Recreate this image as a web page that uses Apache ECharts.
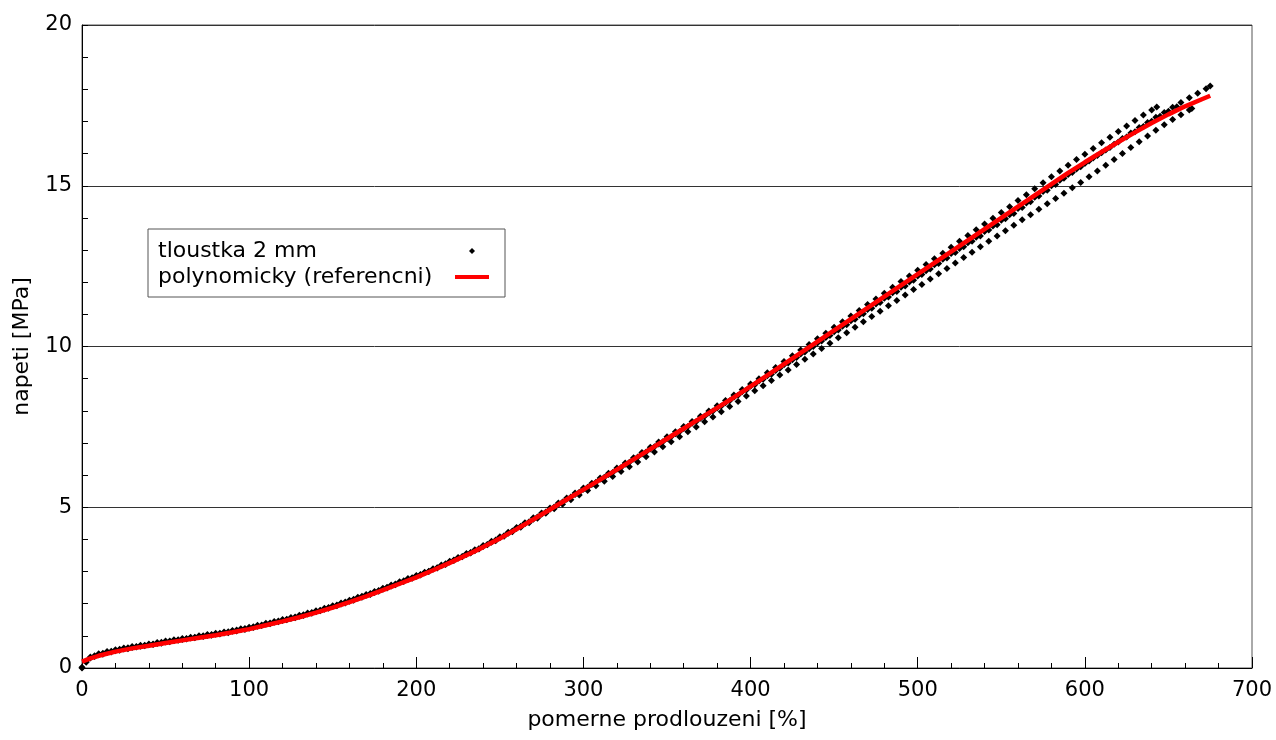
<!DOCTYPE html>
<html>
<head>
<meta charset="utf-8">
<title>napeti - pomerne prodlouzeni</title>
<script src="https://cdn.jsdelivr.net/npm/echarts@6/dist/echarts.min.js"></script>
<style>
  html, body { margin: 0; padding: 0; background: #fff; }
  #chart { width: 1276px; height: 740px; }
</style>
</head>
<body>
<div id="chart"></div>
<script>
// Tensile test, 2 mm thick samples: stress [MPa] against relative elongation [%]
const FONT = 'DejaVu Sans, Verdana, sans-serif';

const seriesMeasured = 'tloustka 2 mm';
const seriesReference = 'polynomicky (referencni)';

const xTicks = { min: 0, max: 700, step: 100 };
const yTicks = { min: 0, max: 20, step: 5 };

// measured sample 1 (strain %, stress MPa)
const sample1 = [
  [0,0],[5,0.34],[10,0.44],[15,0.51],[20,0.57],[25,0.62],[30,0.67],[35,0.71],[40,0.75],[45,0.79],
  [50,0.84],[55,0.88],[60,0.92],[65,0.96],[70,1.0],[75,1.04],[80,1.08],[85,1.12],[90,1.17],[95,1.22],
  [100,1.27],[105,1.33],[110,1.39],[115,1.45],[120,1.51],[125,1.57],[130,1.64],[135,1.71],[140,1.78],[145,1.86],
  [150,1.94],[155,2.02],[160,2.11],[165,2.2],[170,2.29],[175,2.38],[180,2.48],[185,2.58],[190,2.68],[195,2.78],
  [200,2.88],[205,2.98],[210,3.09],[215,3.2],[220,3.32],[225,3.44],[230,3.56],[235,3.68],[240,3.81],[245,3.94],
  [250,4.08],[255,4.22],[260,4.37],[265,4.52],[270,4.67],[275,4.82],[280,4.98],[285,5.13],[290,5.29],[295,5.44],
  [300,5.6],[305,5.75],[310,5.91],[315,6.06],[320,6.22],[325,6.38],[330,6.54],[335,6.7],[340,6.87],[345,7.03],
  [350,7.19],[355,7.35],[360,7.51],[365,7.67],[370,7.83],[375,7.99],[380,8.16],[385,8.32],[390,8.49],[395,8.66],
  [400,8.83],[405,9.0],[410,9.18],[415,9.35],[420,9.53],[425,9.71],[430,9.89],[435,10.06],[440,10.24],[445,10.41],
  [450,10.6],[455,10.77],[460,10.95],[465,11.12],[470,11.31],[475,11.48],[480,11.66],[485,11.84],[490,12.02],[495,12.19],
  [500,12.37],[505,12.55],[510,12.73],[515,12.9],[520,13.09],[525,13.27],[530,13.45],[535,13.63],[540,13.81],[545,13.99],
  [550,14.17],[555,14.35],[560,14.54],[565,14.72],[570,14.91],[575,15.09],[580,15.28],[585,15.46],[590,15.64],[595,15.82],
  [600,15.98],[605,16.16],[610,16.34],[615,16.51],[620,16.69],[625,16.86],[630,17.03],[635,17.2],[640,17.36],[643,17.45]
];

// measured sample 2
const sample2 = [
  [0,0.02],[5,0.31],[10,0.41],[15,0.48],[20,0.54],[25,0.59],[30,0.64],[35,0.68],[40,0.72],[45,0.76],
  [50,0.81],[55,0.85],[60,0.89],[65,0.93],[70,0.97],[75,1.01],[80,1.05],[85,1.09],[90,1.14],[95,1.19],
  [100,1.24],[105,1.3],[110,1.36],[115,1.42],[120,1.48],[125,1.54],[130,1.61],[135,1.68],[140,1.75],[145,1.83],
  [150,1.91],[155,1.99],[160,2.08],[165,2.17],[170,2.26],[175,2.35],[180,2.45],[185,2.55],[190,2.65],[195,2.75],
  [200,2.85],[205,2.96],[210,3.07],[215,3.18],[220,3.3],[225,3.41],[230,3.53],[235,3.65],[240,3.78],[245,3.91],
  [250,4.05],[255,4.19],[260,4.34],[265,4.49],[270,4.63],[275,4.78],[280,4.94],[285,5.09],[290,5.25],[295,5.4],
  [300,5.56],[305,5.71],[310,5.87],[315,6.02],[320,6.18],[325,6.34],[330,6.5],[335,6.66],[340,6.81],[345,6.97],
  [350,7.13],[355,7.29],[360,7.45],[365,7.61],[370,7.77],[375,7.93],[380,8.09],[385,8.25],[390,8.42],[395,8.59],
  [400,8.76],[405,8.93],[410,9.09],[415,9.25],[420,9.43],[425,9.59],[430,9.77],[435,9.93],[440,10.11],[445,10.28],
  [450,10.46],[455,10.63],[460,10.8],[465,10.97],[470,11.15],[475,11.32],[480,11.5],[485,11.67],[490,11.84],[495,12.01],
  [500,12.19],[505,12.36],[510,12.54],[515,12.71],[520,12.89],[525,13.05],[530,13.23],[535,13.4],[540,13.58],[545,13.75],
  [550,13.93],[555,14.1],[560,14.29],[565,14.46],[570,14.64],[575,14.82],[580,15.0],[585,15.17],[590,15.35],[595,15.52],
  [600,15.69],[605,15.86],[610,16.03],[615,16.19],[620,16.36],[625,16.52],[630,16.68],[635,16.84],[640,17.01],[645,17.16],
  [650,17.32],[655,17.46]
];

// measured sample 3
const sample3 = [
  [2.5,0.22],[7.5,0.38],[12.5,0.46],[17.5,0.52],[22.5,0.58],[27.5,0.63],[32.5,0.67],[37.5,0.71],[42.5,0.75],[47.5,0.8],
  [52.5,0.84],[57.5,0.88],[62.5,0.92],[67.5,0.96],[72.5,1.0],[77.5,1.04],[82.5,1.08],[87.5,1.13],[92.5,1.18],[97.5,1.23],
  [102.5,1.28],[107.5,1.34],[112.5,1.4],[117.5,1.46],[122.5,1.52],[127.5,1.59],[132.5,1.66],[137.5,1.73],[142.5,1.8],[147.5,1.88],
  [152.5,1.96],[157.5,2.05],[162.5,2.14],[167.5,2.23],[172.5,2.32],[177.5,2.41],[182.5,2.51],[187.5,2.61],[192.5,2.71],[197.5,2.81],
  [202.5,2.91],[207.5,3.01],[212.5,3.12],[217.5,3.24],[222.5,3.36],[227.5,3.47],[232.5,3.59],[237.5,3.71],[242.5,3.84],[247.5,3.98],
  [252.5,4.11],[257.5,4.26],[262.5,4.41],[267.5,4.55],[272.5,4.7],[277.5,4.85],[282.5,5.01],[287.5,5.16],[292.5,5.32],[297.5,5.47],
  [302.5,5.62],[307.5,5.78],[312.5,5.93],[317.5,6.08],[322.5,6.24],[327.5,6.4],[332.5,6.56],[337.5,6.72],[342.5,6.88],[347.5,7.04],
  [352.5,7.19],[357.5,7.35],[362.5,7.51],[367.5,7.67],[372.5,7.83],[377.5,7.99],[382.5,8.15],[387.5,8.31],[392.5,8.48],[397.5,8.65],
  [402.5,8.81],[407.5,8.98],[412.5,9.14],[417.5,9.32],[422.5,9.49],[427.5,9.66],[432.5,9.83],[437.5,10.0],[442.5,10.17],[447.5,10.34],
  [452.5,10.51],[457.5,10.68],[462.5,10.85],[467.5,11.02],[472.5,11.19],[477.5,11.37],[482.5,11.54],[487.5,11.71],[492.5,11.88],[497.5,12.06],
  [502.5,12.24],[507.5,12.41],[512.5,12.58],[517.5,12.75],[522.5,12.92],[527.5,13.1],[532.5,13.27],[537.5,13.44],[542.5,13.62],[547.5,13.79],
  [552.5,13.97],[557.5,14.14],[562.5,14.32],[567.5,14.5],[572.5,14.68],[577.5,14.86],[582.5,15.04],[587.5,15.23],[592.5,15.41],[597.5,15.59],
  [602.5,15.77],[607.5,15.94],[612.5,16.11],[617.5,16.29],[622.5,16.47],[627.5,16.64],[632.5,16.81],[637.5,16.97],[642.5,17.13],[647.5,17.28],
  [652.5,17.44],[657.5,17.59],[662.5,17.74],[667.5,17.88],[672.5,18.02],[675,18.1]
];

// measured sample 4
const sample4 = [
  [2.5,0.18],[7.5,0.36],[12.5,0.43],[17.5,0.5],[22.5,0.55],[27.5,0.6],[32.5,0.65],[37.5,0.69],[42.5,0.73],[47.5,0.77],
  [52.5,0.82],[57.5,0.86],[62.5,0.9],[67.5,0.94],[72.5,0.98],[77.5,1.02],[82.5,1.06],[87.5,1.1],[92.5,1.15],[97.5,1.2],
  [102.5,1.26],[107.5,1.32],[112.5,1.38],[117.5,1.44],[122.5,1.5],[127.5,1.56],[132.5,1.63],[137.5,1.7],[142.5,1.78],[147.5,1.86],
  [152.5,1.94],[157.5,2.02],[162.5,2.11],[167.5,2.2],[172.5,2.29],[177.5,2.39],[182.5,2.49],[187.5,2.59],[192.5,2.69],[197.5,2.79],
  [202.5,2.89],[207.5,3.0],[212.5,3.11],[217.5,3.22],[222.5,3.34],[227.5,3.46],[232.5,3.58],[237.5,3.7],[242.5,3.83],[247.5,3.96],
  [252.5,4.1],[257.5,4.24],[262.5,4.38],[267.5,4.52],[272.5,4.66],[277.5,4.81],[282.5,4.95],[287.5,5.09],[292.5,5.23],[297.5,5.38],
  [302.5,5.52],[307.5,5.67],[312.5,5.81],[317.5,5.96],[322.5,6.11],[327.5,6.26],[332.5,6.41],[337.5,6.57],[342.5,6.72],[347.5,6.88],
  [352.5,7.04],[357.5,7.19],[362.5,7.35],[367.5,7.5],[372.5,7.66],[377.5,7.81],[382.5,7.97],[387.5,8.13],[392.5,8.29],[397.5,8.46],
  [402.5,8.62],[407.5,8.78],[412.5,8.94],[417.5,9.11],[422.5,9.27],[427.5,9.44],[432.5,9.6],[437.5,9.77],[442.5,9.94],[447.5,10.1],
  [452.5,10.27],[457.5,10.43],[462.5,10.6],[467.5,10.77],[472.5,10.93],[477.5,11.1],[482.5,11.27],[487.5,11.43],[492.5,11.6],[497.5,11.77],
  [502.5,11.93],[507.5,12.1],[512.5,12.26],[517.5,12.43],[522.5,12.6],[527.5,12.77],[532.5,12.93],[537.5,13.1],[542.5,13.27],[547.5,13.44],
  [552.5,13.6],[557.5,13.77],[562.5,13.94],[567.5,14.1],[572.5,14.27],[577.5,14.44],[582.5,14.6],[587.5,14.77],[592.5,14.94],[597.5,15.1],
  [602.5,15.28],[607.5,15.46],[612.5,15.64],[617.5,15.82],[622.5,16.0],[627.5,16.19],[632.5,16.37],[637.5,16.55],[642.5,16.73],[647.5,16.9],
  [652.5,17.06],[657.5,17.21],[662.5,17.36],[664,17.4]
];

// polynomial reference curve
const reference = [
  [0,0.2],[5,0.3],[10,0.38],[20,0.51],[30,0.61],[40,0.69],[50,0.78],[60,0.86],[70,0.94],[80,1.02],[90,1.11],
  [100,1.21],[110,1.33],[120,1.45],[130,1.58],[140,1.72],[150,1.88],[160,2.05],[170,2.23],[180,2.42],[190,2.62],
  [200,2.82],[210,3.04],[220,3.27],[230,3.51],[240,3.76],[250,4.03],[260,4.32],[270,4.62],[280,4.93],[290,5.24],
  [300,5.55],[310,5.86],[320,6.17],[330,6.49],[340,6.81],[350,7.13],[360,7.45],[370,7.77],[380,8.09],[390,8.42],
  [400,8.76],[410,9.1],[420,9.45],[430,9.8],[440,10.15],[450,10.5],[460,10.85],[470,11.2],[480,11.55],[490,11.9],
  [500,12.25],[510,12.6],[520,12.95],[530,13.3],[540,13.65],[550,14.0],[560,14.35],[570,14.7],[580,15.05],[590,15.4],
  [600,15.73],[610,16.05],[620,16.36],[630,16.66],[640,16.95],[650,17.22],[660,17.47],[670,17.69],[675,17.8]
];

const measured = sample1.concat(sample2, sample3, sample4);

const chart = echarts.init(document.getElementById('chart'), null, { renderer: 'canvas' });

const legendText = (w) => ({
  rich: { t: { width: w, align: 'left', fontSize: 22, lineHeight: 24, color: '#000', fontFamily: FONT } }
});

chart.setOption({
  animation: false,
  backgroundColor: '#fff',
  grid: { left: 82, right: 24, top: 25, bottom: 72, show: true, borderColor: '#555', borderWidth: 1, backgroundColor: 'transparent' },
  legend: [
    {
      orient: 'vertical', left: 148, top: 229, padding: [11, 30, 35, 10],
      borderColor: '#555', borderWidth: 1, backgroundColor: '#fff',
      align: 'right', itemWidth: 6, itemHeight: 6, selectedMode: false, z: 4,
      data: [{ name: seriesMeasured, icon: 'diamond' }],
      formatter: (n) => '{t|' + n + '}',
      textStyle: legendText(306)
    },
    {
      orient: 'vertical', left: 158, top: 266, padding: 0,
      align: 'right', itemWidth: 34, itemHeight: 4, selectedMode: false, z: 6,
      data: [{ name: seriesReference, icon: 'rect' }],
      formatter: (n) => '{t|' + n + '}',
      textStyle: legendText(292)
    }
  ],
  xAxis: {
    type: 'value', min: xTicks.min, max: xTicks.max, interval: xTicks.step,
    name: 'pomerne prodlouzeni [%]', nameLocation: 'middle', nameGap: 41,
    nameTextStyle: { fontSize: 22, color: '#000', fontFamily: FONT },
    axisLine: { show: true, onZero: false, lineStyle: { color: '#000', width: 1 } },
    axisTick: { show: true, inside: true, length: 11, lineStyle: { color: '#000', width: 1 } },
    minorTick: { show: true, splitNumber: 5, length: 5, lineStyle: { color: '#000', width: 1 } },
    axisLabel: { fontSize: 21, color: '#000', margin: 12, fontFamily: FONT },
    splitLine: { show: false },
    minorSplitLine: { show: false }
  },
  yAxis: {
    type: 'value', min: yTicks.min, max: yTicks.max, interval: yTicks.step,
    name: 'napeti [MPa]', nameLocation: 'middle', nameGap: 49,
    nameTextStyle: { fontSize: 22, color: '#000', fontFamily: FONT },
    axisLine: { show: true, onZero: false, lineStyle: { color: '#000', width: 1 } },
    axisTick: { show: true, inside: true, length: 6, lineStyle: { color: '#000', width: 1 } },
    minorTick: { show: true, splitNumber: 5, length: 6, lineStyle: { color: '#000', width: 1 } },
    axisLabel: { fontSize: 21, color: '#000', margin: 10, fontFamily: FONT },
    splitLine: { show: true, lineStyle: { color: '#333', width: 1 } },
    minorSplitLine: { show: false }
  },
  series: [
    {
      name: seriesMeasured, type: 'scatter', data: measured,
      symbol: 'diamond', symbolSize: 7,
      itemStyle: { color: '#000', opacity: 1 }, z: 2, silent: true
    },
    {
      name: seriesReference, type: 'line', data: reference,
      showSymbol: false, symbol: 'none', smooth: false,
      lineStyle: { color: '#ff0000', width: 4.5 }, itemStyle: { color: '#ff0000' },
      z: 3, silent: true
    }
  ]
});
</script>
</body>
</html>
